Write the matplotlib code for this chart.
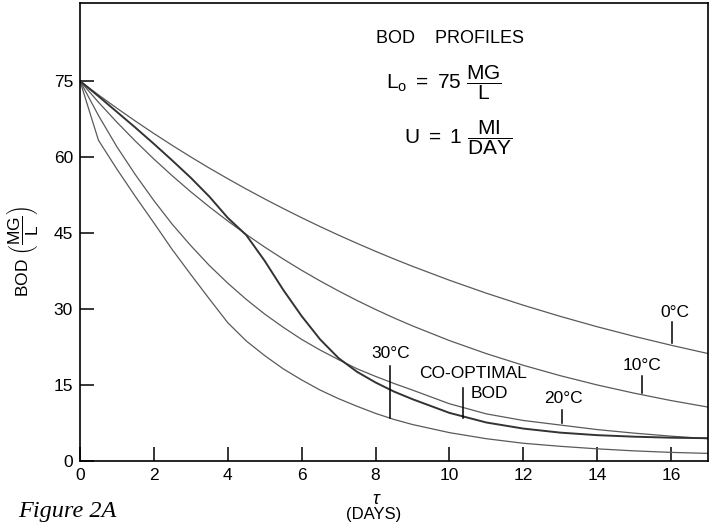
import matplotlib
matplotlib.use("Agg")
import matplotlib.pyplot as plt

plt.rcParams['font.family'] = ['Liberation Sans', 'DejaVu Sans']
plt.rcParams['mathtext.fontset'] = 'custom'
plt.rcParams['mathtext.rm'] = 'Liberation Sans'
plt.rcParams['mathtext.it'] = 'Liberation Sans:italic'

# ---- data ----
days = [0, 0.5, 1, 1.5, 2, 2.5, 3, 3.5, 4, 4.5, 5, 5.5, 6, 6.5, 7, 7.5, 8, 8.5, 9,
        10, 11, 12, 13, 14, 15, 16, 17]
bod_0c = [75, 72.26, 69.63, 67.09, 64.64, 62.28, 60.01, 57.82, 55.72, 53.68, 51.73, 49.84,
          48.02, 46.27, 44.58, 42.96, 41.39, 39.88, 38.43, 35.68, 33.12, 30.75, 28.55, 26.50,
          24.61, 22.85, 21.21]
bod_10c = [75, 70.81, 66.86, 63.13, 59.60, 56.28, 53.13, 50.17, 47.37, 44.72, 42.22, 39.87,
           37.64, 35.54, 33.56, 31.68, 29.91, 28.24, 26.67, 23.77, 21.19, 18.89, 16.84, 15.01,
           13.39, 11.93, 10.64]
bod_20c = [75, 68.2, 62.0, 56.5, 51.4, 46.7, 42.5, 38.6, 35.1, 31.9, 29.0, 26.4, 24.0, 21.9,
           20.0, 18.2, 16.7, 15.3, 14.0, 11.3, 9.3, 8.0, 7.1, 6.2, 5.5, 4.9, 4.4]
bod_30c = [75, 63.3, 57.6, 52.2, 47.0, 41.7, 36.8, 32.0, 27.3, 23.7, 20.8, 18.2, 16.0, 14.0,
           12.3, 10.8, 9.4, 8.2, 7.2, 5.6, 4.4, 3.5, 2.9, 2.4, 2.0, 1.7, 1.5]
bod_coopt = [75, 72.0, 68.9, 65.8, 62.6, 59.3, 55.9, 52.2, 48.0, 44.6, 39.5, 33.8, 28.6, 24.0,
             20.3, 17.6, 15.5, 13.7, 12.2, 9.5, 7.6, 6.4, 5.6, 5.1, 4.8, 4.6, 4.5]

x_ticks = [0, 2, 4, 6, 8, 10, 12, 14, 16]
y_ticks = [0, 15, 30, 45, 60, 75]

# curve labels: (text, text x, text y, marker x, marker y top, marker y bottom)
curve_labels = [
    ("0°C", 16.1, 29.4, 16.03, 27.4, 23.3),
    ("10°C", 15.2, 18.9, 15.2, 16.8, 13.4),
    ("20°C", 13.08, 12.4, 13.05, 10.0, 7.5),
    ("30°C", 8.42, 21.3, 8.38, 18.7, 8.5),
]

fig = plt.figure(figsize=(7.11, 5.23), dpi=100)
ax = fig.add_axes([80/711, 62/523, 628/711, 458/523])

line_col = '#5a5a5a'
ax.plot(days, bod_0c, color=line_col, lw=0.9)
ax.plot(days, bod_10c, color=line_col, lw=0.9)
ax.plot(days, bod_20c, color=line_col, lw=0.9)
ax.plot(days, bod_30c, color=line_col, lw=0.9)
ax.plot(days, bod_coopt, color='#333333', lw=1.4)

ax.set_xlim(0, 17)
ax.set_ylim(0, 90.4)
ax.set_xticks(x_ticks)
ax.set_yticks(y_ticks)
ax.tick_params(direction='in', length=10, width=1.1, labelsize=12.5, color='black')
ax.tick_params(axis='x', pad=5)
ax.tick_params(axis='y', pad=5)
for s in ax.spines.values():
    s.set_linewidth(1.2)

for txt, tx, ty, mx, my0, my1 in curve_labels:
    ax.text(tx, ty, txt, ha='center', va='center', fontsize=12.5)
    ax.plot([mx, mx], [my0, my1], color='black', lw=1.1)

# co-optimal label
ax.text(10.65, 17.2, "CO-OPTIMAL", ha='center', va='center', fontsize=12.5)
ax.text(11.08, 13.4, "BOD", ha='center', va='center', fontsize=12.5)
ax.plot([10.38, 10.38], [14.4, 8.5], color='black', lw=1.1)

# header texts
ax.text(8.0, 83.3, "BOD    PROFILES", ha='left', va='center', fontsize=13)
ax.text(8.27, 74.6, r'$\mathrm{L}_{\mathrm{o}}\ =\ 75\ \dfrac{\mathrm{MG}}{\mathrm{L}}$',
        ha='left', va='center', fontsize=15)
ax.text(8.78, 63.9, r'$\mathrm{U}\ =\ 1\ \dfrac{\mathrm{MI}}{\mathrm{DAY}}$',
        ha='left', va='center', fontsize=15)

# axis labels
fig.text(22/711, 1 - 252/523, r'BOD $\left(\dfrac{\mathrm{MG}}{\mathrm{L}}\right)$',
         rotation=90, ha='center', va='center', fontsize=12.5)
fig.text(377/711, 1 - 499/523, r'$\tau$', ha='center', va='center', fontsize=13)
fig.text(374/711, 1 - 514/523, '(DAYS)', ha='center', va='center', fontsize=12)
fig.text(18/711, 1 - 511/523, 'Figure 2A', ha='left', va='center', fontsize=17.5,
         family=['Liberation Serif'], style='italic')

fig.savefig('out.png', dpi=100)
